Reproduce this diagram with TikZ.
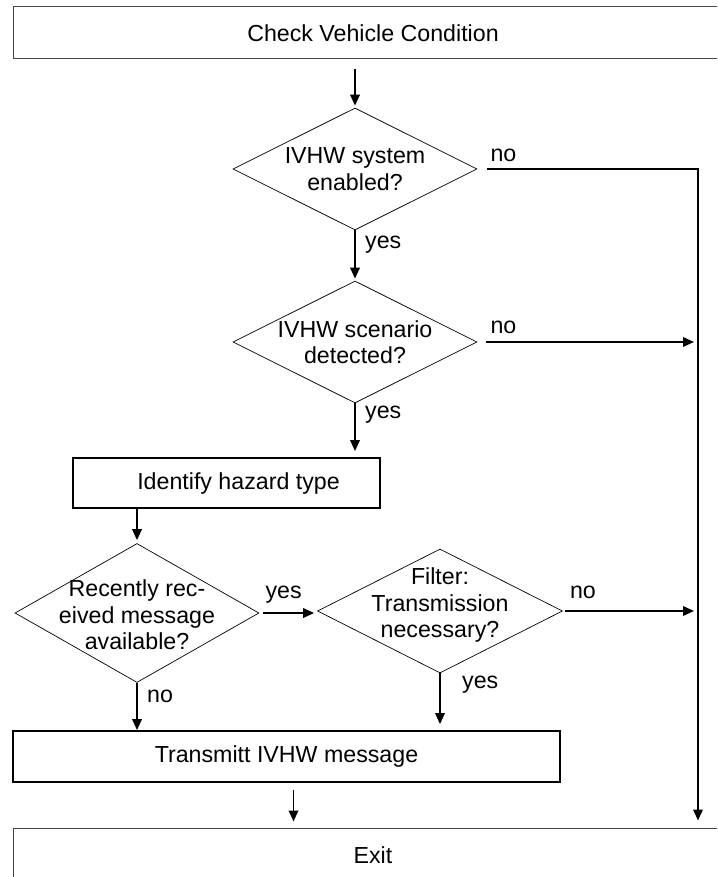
\documentclass[tikz,border=0pt]{standalone}
\usepackage{fontspec}
\setmainfont{Liberation Sans}
\usepackage{tikz}
\usetikzlibrary{positioning,arrows.meta,calc,shapes.geometric}
\definecolor{fcInk}{RGB}{0,0,0}
\definecolor{fcFrame}{RGB}{70,70,70}
\tikzset{
    base/.style={font=\fontsize{23.2}{26.5}\selectfont, align=center, inner sep=0pt},
    frame/.style={base, rectangle, draw=fcFrame, line width=1pt},
    process/.style={base, rectangle, draw=fcInk, line width=1.8pt},
    decision/.style={base, diamond, draw=fcInk, line width=0.7pt},
    question/.style={base},
    flow/.style={-{Triangle[length=11pt,width=9.5pt]}, line width=1.9pt, color=fcInk},
    answer/.style={base, anchor=base west}
}

\begin{document}
\begin{tikzpicture}[x=1pt, y=-1pt]
  \useasboundingbox (0,0) rectangle (717,877);
  \clip (0,0) rectangle (717,877);

  % Boxes
  \node[frame, minimum width=720pt, minimum height=52pt] (check) at (373,33) {Check Vehicle Condition};
  \node[process, minimum width=307pt, minimum height=50pt] (identify) at (226.5,483) {\hspace*{24pt}Identify hazard type};
  \node[process, minimum width=547pt, minimum height=51pt] (transmit) at (286.5,756.5) {Transmitt IVHW message};
  \node[frame, minimum width=720pt, minimum height=54pt] (exit) at (373,855) {Exit};

  % Decisions
  \node[decision, minimum width=244pt, minimum height=122pt] (enabled) at (355,169) {};
  \node[question] (enabledTxt) at (enabled) {IVHW system\\enabled?};
  \node[decision, minimum width=244pt, minimum height=122pt] (scenario) at (355,342) {};
  \node[question] (scenarioTxt) at (scenario) {IVHW scenario\\detected?};
  \node[decision, minimum width=244pt, minimum height=139pt] (recent) at (137,613) {};
  \node[question] (recentTxt) at ([shift={(0,2)}]recent) {Recently rec-\\eived message\\available?};
  \node[decision, minimum width=245pt, minimum height=124pt] (filter) at (440,611) {};
  \node[question] (filterTxt) at ([shift={(0,-6)}]filter) {Filter:\\Transmission\\necessary?};

  % Rail to exit
  \coordinate (rail) at (698,167);

  % Connectors
  \draw[flow, shorten <=10pt, shorten >=2pt] (enabled.north |- check.south) -- (enabled.north);
  \draw[flow, shorten <=10pt, shorten >=7pt] (enabled.east) -- (enabled.east -| rail) -- (rail |- exit.north);
  \draw[flow, shorten >=2pt] (enabled.south) -- (scenario.north);
  \draw[flow, shorten <=9pt, shorten >=4pt] (scenario.east) -- (scenario.east -| rail);
  \draw[flow, shorten >=6pt] (scenario.south) -- (scenario.south |- identify.north);
  \draw[flow, shorten >=3pt] (recent.north |- identify.south) -- (recent.north);
  \draw[flow, shorten <=4pt, shorten >=3pt] (recent.east) -- (recent.east -| filter.west);
  \draw[flow, shorten <=2pt, shorten >=4pt] (filter.east) -- (filter.east -| rail);
  \draw[flow, shorten >=6pt] (filter.south) -- (filter.south |- transmit.north);
  \draw[flow] (recent.south) -- (recent.south |- transmit.north);
  \draw[flow, shorten <=7pt, shorten >=6pt] ([xshift=7pt]transmit.south) -- ([xshift=7pt]transmit.south |- exit.north);

  % Answers
  \node[answer] (noEnabled) at ([shift={(13,-7)}]enabled.east) {no};
  \node[answer] (yesEnabled) at ([shift={(10,18)}]enabled.south) {yes};
  \node[answer] (noScenario) at ([shift={(13,-9)}]scenario.east) {no};
  \node[answer] (yesScenario) at ([shift={(10,15)}]scenario.south) {yes};
  \node[answer] (yesRecent) at ([shift={(6,-15)}]recent.east) {yes};
  \node[answer] (noRecent) at ([shift={(10,20)}]recent.south) {no};
  \node[answer] (noFilter) at ([shift={(7,-13)}]filter.east) {no};
  \node[answer] (yesFilter) at ([shift={(22,15)}]filter.south) {yes};
\end{tikzpicture}
\end{document}
